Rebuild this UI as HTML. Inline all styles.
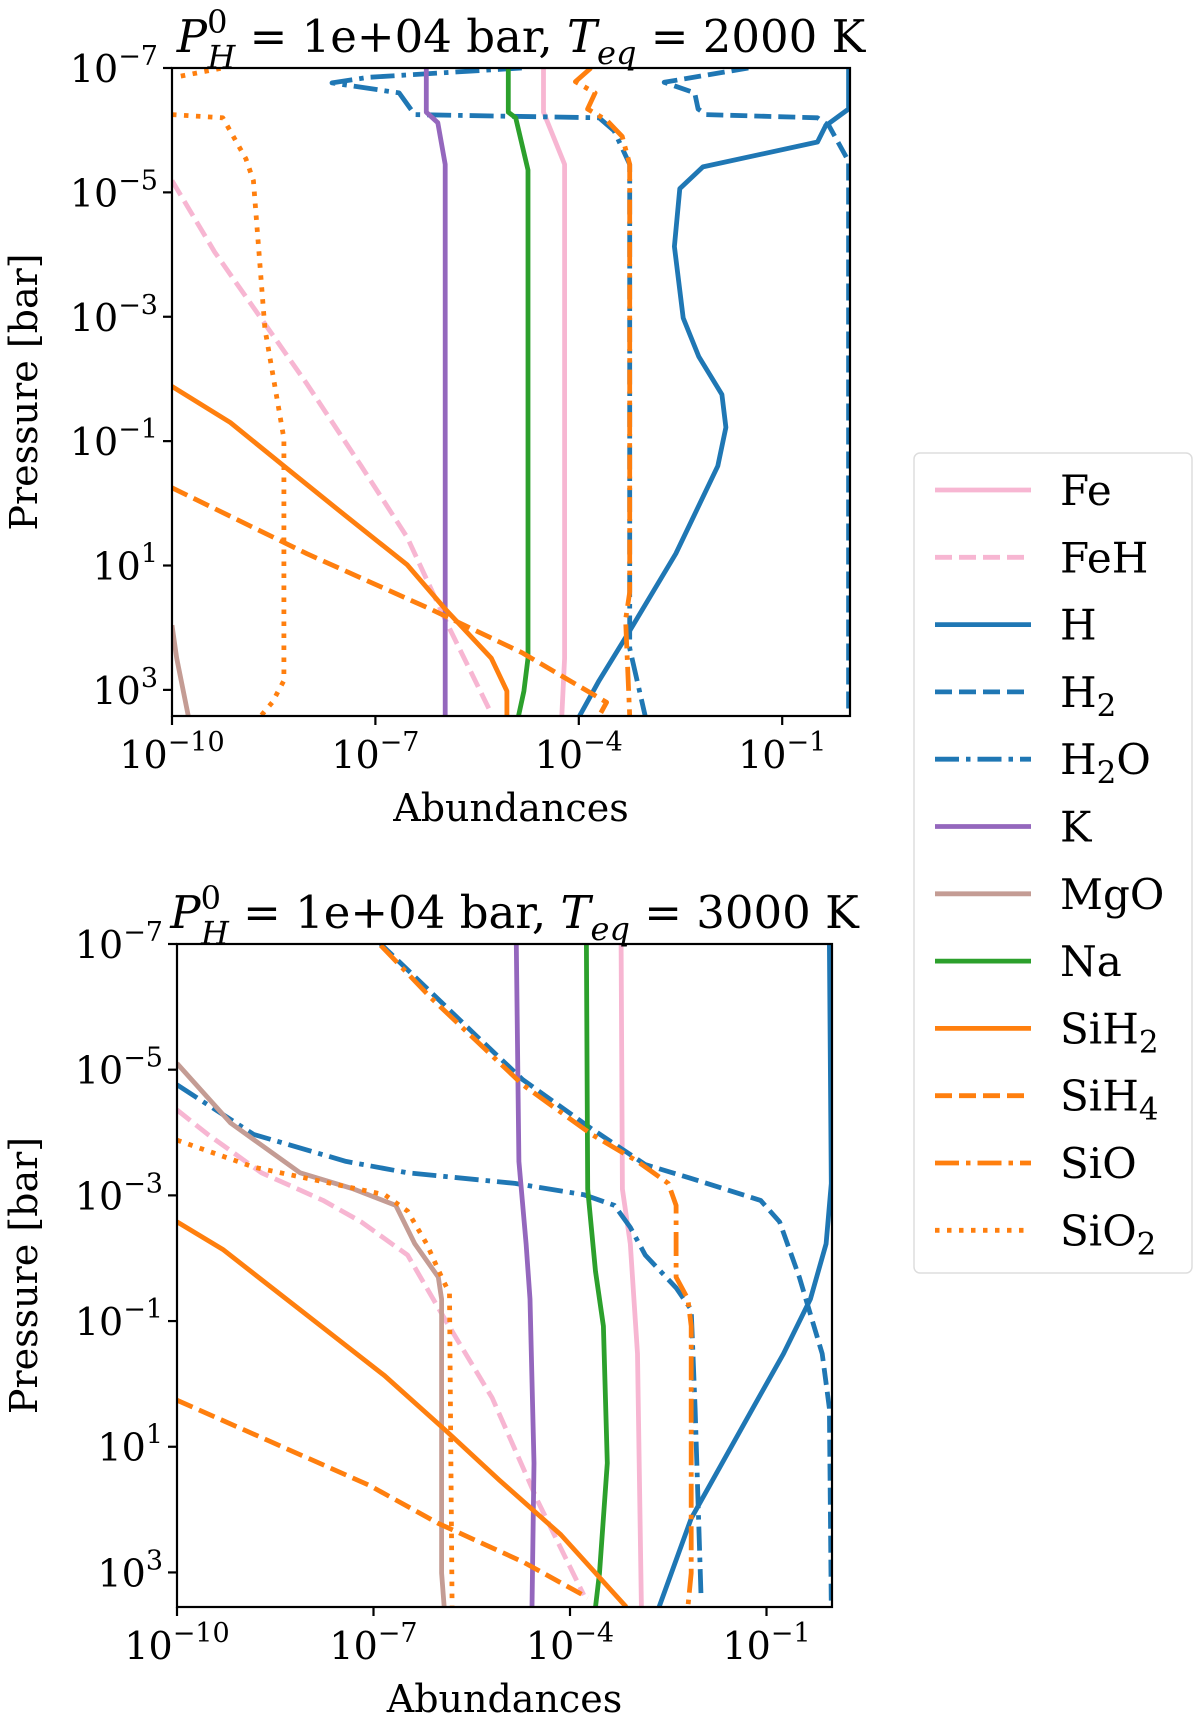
<!DOCTYPE html>
<html><head><meta charset="utf-8">
<style>
body{margin:0;background:#fff;}
svg{display:block;font-family:"DejaVu Serif","Liberation Serif",serif;}
</style></head>
<body>
<svg id="fig" width="1200" height="1718" viewBox="0 0 1200 1718" xmlns="http://www.w3.org/2000/svg">
<rect width="1200" height="1718" fill="#fff"/>
<g id="legend"></g>
</svg>
<script>
// ===== data: log10 abundance (x) and log10 pressure (p) =====
// Panel 1: Teq = 2000 K
const t1_Fe_x=[-4.52,-4.52,-4.21,-4.21,-4.25]; const t1_Fe_p=[-7,-6.29,-5.45,2.49,3.42];
const t1_FeH_x=[-10,-9.37,-8.69,-8.01,-7.21,-6.53,-5.97,-5.29]; const t1_FeH_p=[-5.19,-4.04,-2.98,-1.92,-0.6,0.55,1.87,3.38];
const t1_H_x=[-0.02,-0.02,-0.36,-0.48,-2.17,-2.51,-2.59,-2.46,-2.23,-1.89,-1.83,-1.95,-2.57,-3.25,-3.7,-3.99]; const t1_H_p=[-7,-6.34,-6.07,-5.81,-5.41,-5.06,-4.13,-2.98,-2.36,-1.75,-1.22,-0.6,0.81,2.05,2.85,3.42];
const t1_H2_x=[-1.5,-2.74,-2.29,-2.24,-2.12,-0.48,-0.31,-0.02,-0.02]; const t1_H2_p=[-7,-6.77,-6.6,-6.34,-6.25,-6.2,-6.07,-5.5,3.42];
const t1_H2O_x=[-4.84,-7.1,-7.64,-6.65,-6.42,-3.7,-3.48,-3.25,-3.25,-3.02]; const t1_H2O_p=[-7,-6.85,-6.76,-6.6,-6.25,-6.2,-5.99,-5.45,2.33,3.42];
const t1_K_x=[-6.25,-6.25,-6.08,-5.97,-5.97]; const t1_K_p=[-7,-6.29,-6.12,-5.45,3.42];
const t1_MgO_x=[-10,-9.93,-9.76]; const t1_MgO_p=[1.96,2.49,3.42];
const t1_Na_x=[-5.04,-5.04,-4.93,-4.75,-4.75,-4.81,-4.89]; const t1_Na_p=[-7,-6.29,-6.2,-5.36,2.49,3.02,3.42];
const t1_SiH2_x=[-10,-9.14,-8.35,-7.44,-6.53,-5.97,-5.29,-5.06,-5.06]; const t1_SiH2_p=[-1.88,-1.3,-0.6,0.2,0.99,1.7,2.49,3.02,3.42];
const t1_SiH4_x=[-10,-8.01,-6.19,-4.84,-3.59,-3.7]; const t1_SiH4_p=[-0.25,0.81,1.7,2.4,3.2,3.42];
const t1_SiO_x=[-3.82,-4.05,-3.76,-3.87,-3.59,-3.36,-3.25,-3.25,-3.31,-3.25]; const t1_SiO_p=[-7,-6.78,-6.6,-6.34,-6.16,-5.9,-5.45,1.43,1.87,3.42];
const t1_SiO2a_x=[-9.87,-9.25]; const t1_SiO2a_p=[-6.87,-7];
const t1_SiO2_x=[-10,-9.25,-8.91,-8.8,-8.63,-8.35,-8.35,-8.52,-8.69]; const t1_SiO2_p=[-6.25,-6.2,-5.54,-5.19,-2.81,-1.04,2.85,3.2,3.42];
// Panel 2: Teq = 3000 K
const t2_Fe_x=[-3.22,-3.2,-3.08,-2.97,-2.91]; const t2_Fe_p=[-7,-3.1,-2.23,-0.48,3.55];
const t2_FeH_x=[-10,-9.53,-8.71,-7.77,-7.19,-6.48,-5.9,-5.19,-4.49,-3.79]; const t2_FeH_p=[-4.36,-3.97,-3.36,-2.92,-2.58,-2.05,-1.01,0.22,1.87,3.36];
const t2_H_x=[-0.04,-0.01,-0.09,-0.33,-0.74,-1.21,-2.15,-2.64]; const t2_H_p=[-7,-3.19,-2.23,-1.35,-0.48,0.39,2.14,3.55];
const t2_H2_x=[-6.89,-6.13,-5.43,-4.72,-3.67,-2.85,-2.15,-1.09,-0.8,-0.5,-0.15,-0.04,-0.01]; const t2_H2_p=[-7,-6.24,-5.54,-4.84,-4.06,-3.49,-3.27,-2.92,-2.58,-1.7,-0.48,0.39,3.55];
const t2_H2O_x=[-10,-8.83,-7.42,-6.48,-4.84,-3.79,-3.32,-3.08,-2.85,-2.38,-2.15,-2.09,-2.0]; const t2_H2O_p=[-4.76,-3.97,-3.54,-3.36,-3.19,-3.01,-2.84,-2.49,-2.05,-1.53,-1.18,0.39,3.36];
const t2_K_x=[-4.82,-4.78,-4.67,-4.61,-4.55,-4.58]; const t2_K_p=[-7,-3.54,-2.23,-1.35,1.26,3.55];
const t2_MgO_x=[-10,-9.18,-8.12,-7.3,-6.66,-6.37,-6.01,-5.96,-5.96,-5.92]; const t2_MgO_p=[-5.1,-4.15,-3.36,-3.1,-2.84,-2.23,-1.7,-1.35,3.01,3.55];
const t2_Na_x=[-3.75,-3.73,-3.61,-3.49,-3.43,-3.55,-3.61]; const t2_Na_p=[-7,-3.1,-1.79,-0.92,1.26,3.01,3.55];
const t2_SiH2_x=[-10,-9.3,-8.01,-6.83,-5.9,-5.08,-4.14,-3.14]; const t2_SiH2_p=[-2.58,-2.14,-1.09,-0.13,0.74,1.53,2.4,3.55];
const t2_SiH4_x=[-10,-8.59,-7.07,-6.01,-4.72,-3.73]; const t2_SiH4_p=[0.26,0.91,1.61,2.22,2.83,3.4];
const t2_SiO_x=[-6.89,-6.13,-5.43,-4.72,-3.67,-2.97,-2.5,-2.38,-2.38,-2.2,-2.15,-2.15,-2.2]; const t2_SiO_p=[-6.98,-6.15,-5.46,-4.76,-3.97,-3.54,-3.19,-2.84,-1.7,-1.35,-0.92,3.01,3.55];
const t2_SiO2_x=[-10,-8.83,-8.01,-6.83,-6.48,-6.19,-5.96,-5.84,-5.8]; const t2_SiO2_p=[-3.88,-3.45,-3.27,-3.01,-2.75,-2.23,-1.7,-1.44,3.55];
const xTicks=[-10,-7,-4,-1];
const yTicks=[-7,-5,-3,-1,1,3];
const legendNames=["Fe","FeH","H","H|2","H|2|O","K","MgO","Na","SiH|2","SiH|4","SiO","SiO|2"];

// ===== styles =====
const C={pink:"#f7b6d2",blue:"#1f77b4",orange:"#ff7f0e",purple:"#9467bd",brown:"#c49c94",green:"#2ca02c"};
const D={solid:"",dash:"17,7",dot:"4.5,7.5",dashdot:"24,7,4.5,7"};
const legendStyle=[["pink","solid"],["pink","dash"],["blue","solid"],["blue","dash"],["blue","dashdot"],["purple","solid"],["brown","solid"],["green","solid"],["orange","solid"],["orange","dash"],["orange","dashdot"],["orange","dot"]];
const NS="http://www.w3.org/2000/svg";
const svg=document.getElementById('fig');
function mk(tag,attrs,parent){const e=document.createElementNS(NS,tag);for(const k in attrs)e.setAttribute(k,attrs[k]);(parent||svg).appendChild(e);return e;}

function panel(id,L,R,T,B,pmax,title,series){
  const g=mk('g',{});
  
  
  const X=v=>L+(v+10)/10*(R-L);
  const Y=v=>T+(v+7)/(pmax+7)*(B-T);
  const clip=mk('clipPath',{id:id+'-clip'},g);
  mk('rect',{x:L,y:T,width:R-L,height:B-T},clip);
  const lines=mk('g',{'clip-path':'url(#'+id+'-clip)'},g);
  series.forEach(s=>{
    let d='';s.x.forEach((v,i)=>{d+=(i?'L':'M')+X(v).toFixed(1)+','+Y(s.p[i]).toFixed(1);});
    const path=mk('path',{d:d,fill:'none',stroke:C[s.c],'stroke-width':4.8,'stroke-dasharray':D[s.d]||'none','stroke-linejoin':'round'},lines);
    
    
  });
  const frame=mk('rect',{x:L,y:T,width:R-L,height:B-T,fill:'none',stroke:'#000','stroke-width':2.2},g);
  
  
  xTicks.forEach(t=>{
    const x=X(t);
    mk('line',{x1:x,y1:B,x2:x,y2:B+9,stroke:'#000','stroke-width':2.2},g);
    const tx=mk('text',{x:x,y:B+52,'font-size':38,'text-anchor':'middle'},g);
    
    
    tx.innerHTML='10<tspan dy="-17" font-size="27">−'+(-t)+'</tspan>';
  });
  yTicks.forEach(t=>{
    const y=Y(t);
    mk('line',{x1:L-9,y1:y,x2:L,y2:y,stroke:'#000','stroke-width':2.2},g);
    const ty=mk('text',{x:L-14,y:y+14,'font-size':38,'text-anchor':'end'},g);
    
    
    ty.innerHTML='10<tspan dy="-17" font-size="27">'+(t<0?'−'+(-t):t)+'</tspan>';
  });
  const xl=mk('text',{x:(L+R)/2,y:B+105,'font-size':38,'text-anchor':'middle'},g);
  
  
  xl.textContent='Abundances';
  const yl=mk('text',{x:0,y:0,'font-size':38,'text-anchor':'middle',transform:'translate(37,'+((T+B)/2)+') rotate(-90)'},g);
  
  
  yl.textContent='Pressure [bar]';
  const tt=mk('text',{x:(L+R)/2+10,y:T-16,'font-size':45,'text-anchor':'middle'},g);
  
  
  tt.innerHTML='<tspan font-style="italic">P</tspan><tspan dy="-19" font-size="32">0</tspan><tspan dx="-20" dy="35" font-size="32" font-style="italic">H</tspan><tspan dy="-16"> = 1e+04 bar, </tspan><tspan font-style="italic">T</tspan><tspan dy="12" font-size="32" font-style="italic">eq</tspan><tspan dy="-12"> = '+title+' K</tspan>';
}
function S(n,x,p,c,d){return {n:n,x:x,p:p,c:c,d:d};}
panel('top',172,850,68,716,3.42,'2000',[
 S('SiO2a',t1_SiO2a_x,t1_SiO2a_p,'orange','dot'),
 S('Fe',t1_Fe_x,t1_Fe_p,'pink','solid'),S('FeH',t1_FeH_x,t1_FeH_p,'pink','dash'),
 S('H',t1_H_x,t1_H_p,'blue','solid'),S('H2',t1_H2_x,t1_H2_p,'blue','dash'),S('H2O',t1_H2O_x,t1_H2O_p,'blue','dashdot'),
 S('K',t1_K_x,t1_K_p,'purple','solid'),S('MgO',t1_MgO_x,t1_MgO_p,'brown','solid'),S('Na',t1_Na_x,t1_Na_p,'green','solid'),
 S('SiH2',t1_SiH2_x,t1_SiH2_p,'orange','solid'),S('SiH4',t1_SiH4_x,t1_SiH4_p,'orange','dash'),
 S('SiO',t1_SiO_x,t1_SiO_p,'orange','dashdot'),S('SiO2',t1_SiO2_x,t1_SiO2_p,'orange','dot')]);
panel('bottom',177,832,944,1607,3.55,'3000',[
 S('Fe',t2_Fe_x,t2_Fe_p,'pink','solid'),S('FeH',t2_FeH_x,t2_FeH_p,'pink','dash'),
 S('H',t2_H_x,t2_H_p,'blue','solid'),S('H2',t2_H2_x,t2_H2_p,'blue','dash'),S('H2O',t2_H2O_x,t2_H2O_p,'blue','dashdot'),
 S('K',t2_K_x,t2_K_p,'purple','solid'),S('MgO',t2_MgO_x,t2_MgO_p,'brown','solid'),S('Na',t2_Na_x,t2_Na_p,'green','solid'),
 S('SiH2',t2_SiH2_x,t2_SiH2_p,'orange','solid'),S('SiH4',t2_SiH4_x,t2_SiH4_p,'orange','dash'),
 S('SiO',t2_SiO_x,t2_SiO_p,'orange','dashdot'),S('SiO2',t2_SiO2_x,t2_SiO2_p,'orange','dot')]);

// legend
const lg=document.getElementById('legend');
mk('rect',{x:914,y:453,width:278,height:820,rx:6,fill:'#fff',stroke:'#ddd','stroke-width':1.5},lg);
legendNames.forEach((n,i)=>{
  const y=490+i*67.3;
  const e=mk('g',{},lg);
  
  
  const st=legendStyle[i];
  mk('line',{x1:935,y1:y,x2:1031,y2:y,stroke:C[st[0]],'stroke-width':4.8,'stroke-dasharray':D[st[1]]||'none'},e);
  const t=mk('text',{x:1060,y:y+15,'font-size':42},e);
  const parts=n.split('|');
  let html=parts[0];
  if(parts.length>1){html+='<tspan dy="9" font-size="31">'+parts[1]+'</tspan>';if(parts[2])html+='<tspan dy="-9">'+parts[2]+'</tspan>';}
  t.innerHTML=html;
});
svg.appendChild(lg);
</script>
</body></html>
